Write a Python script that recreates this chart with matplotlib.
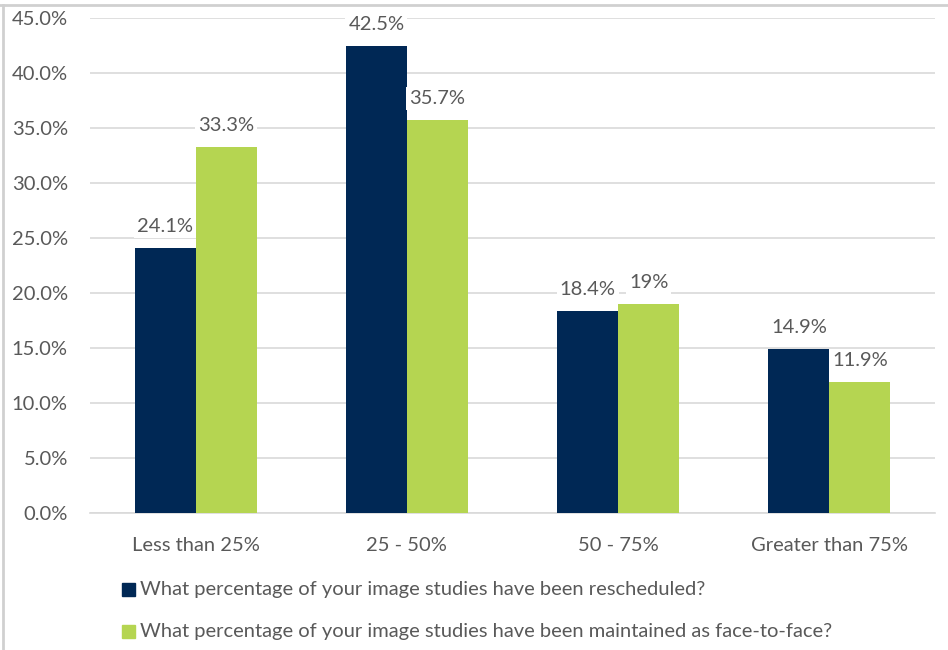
import matplotlib.pyplot as plt
from matplotlib.patches import Rectangle
from matplotlib.lines import Line2D
import numpy as np

categories = ["Less than 25%", "25 - 50%", "50 - 75%", "Greater than 75%"]
rescheduled = [24.1, 42.5, 18.4, 14.9]
face_to_face = [33.3, 35.7, 19.0, 11.9]
rescheduled_labels = ["24.1%", "42.5%", "18.4%", "14.9%"]
face_labels = ["33.3%", "35.7%", "19%", "11.9%"]
series_names = [
    "What percentage of your image studies have been rescheduled?",
    "What percentage of your image studies have been maintained as face-to-face?",
]

navy = "#002855"
green = "#b5d551"
text_col = "#595959"
grid_col = "#d9d9d9"
fs = 14.5

plt.rcParams["font.family"] = ["Lato", "DejaVu Sans"]

W, H = 948, 650
fig = plt.figure(figsize=(W / 100, H / 100), dpi=100)
ax = fig.add_axes([90 / W, 1 - 513 / H, 845 / W, (513 - 18) / H])

x = np.arange(len(categories))
bw = 0.289
ax.bar(x - bw / 2, rescheduled, bw, color=navy, zorder=3)
ax.bar(x + bw / 2, face_to_face, bw, color=green, zorder=3)

label_box = dict(boxstyle="square,pad=0.15", facecolor="white", edgecolor="none")
for xi, v, lab in zip(x, rescheduled, rescheduled_labels):
    ax.text(xi - bw / 2, v + 1.45, lab, ha="center", va="baseline", fontsize=fs,
            color=text_col, bbox=label_box, zorder=4)
for xi, v, lab in zip(x, face_to_face, face_labels):
    ax.text(xi + bw / 2, v + 1.45, lab, ha="center", va="baseline", fontsize=fs,
            color=text_col, bbox=label_box, zorder=4)

ax.set_xlim(-0.5, len(categories) - 0.5)
ax.set_ylim(0, 45)
ax.set_yticks(np.arange(0, 45.1, 5))
ax.set_yticklabels([f"{t:.1f}%" for t in np.arange(0, 45.1, 5)])
ax.set_xticks(x)
ax.set_xticklabels(categories)
ax.tick_params(axis="both", length=0, labelsize=fs, labelcolor=text_col)
ax.tick_params(axis="y", pad=16)
ax.tick_params(axis="x", pad=17)
ax.yaxis.grid(True, color=grid_col, linewidth=1.2, zorder=0)
ax.set_axisbelow(True)
for s in ["top", "right", "left"]:
    ax.spines[s].set_visible(False)
ax.spines["bottom"].set_color(grid_col)
ax.spines["bottom"].set_linewidth(1.2)

# legend entries
for i, (name, col) in enumerate(zip(series_names, [navy, green])):
    yc = 1 - (589 + 42 * i) / H
    fig.patches.append(Rectangle((122 / W, yc - 6.5 / H), 13 / W, 13 / H,
                                 transform=fig.transFigure, color=col))
    fig.text(140 / W, yc, name, ha="left", va="center", fontsize=fs, color=text_col)

# outer frame lines
fig.add_artist(Line2D([0, 1], [1 - 5 / H, 1 - 5 / H], transform=fig.transFigure, color="#d0d0d0", linewidth=2))
fig.add_artist(Line2D([3 / W, 3 / W], [0, 1 - 5 / H], transform=fig.transFigure, color="#d0d0d0", linewidth=2))

fig.savefig("out.png", dpi=100)
